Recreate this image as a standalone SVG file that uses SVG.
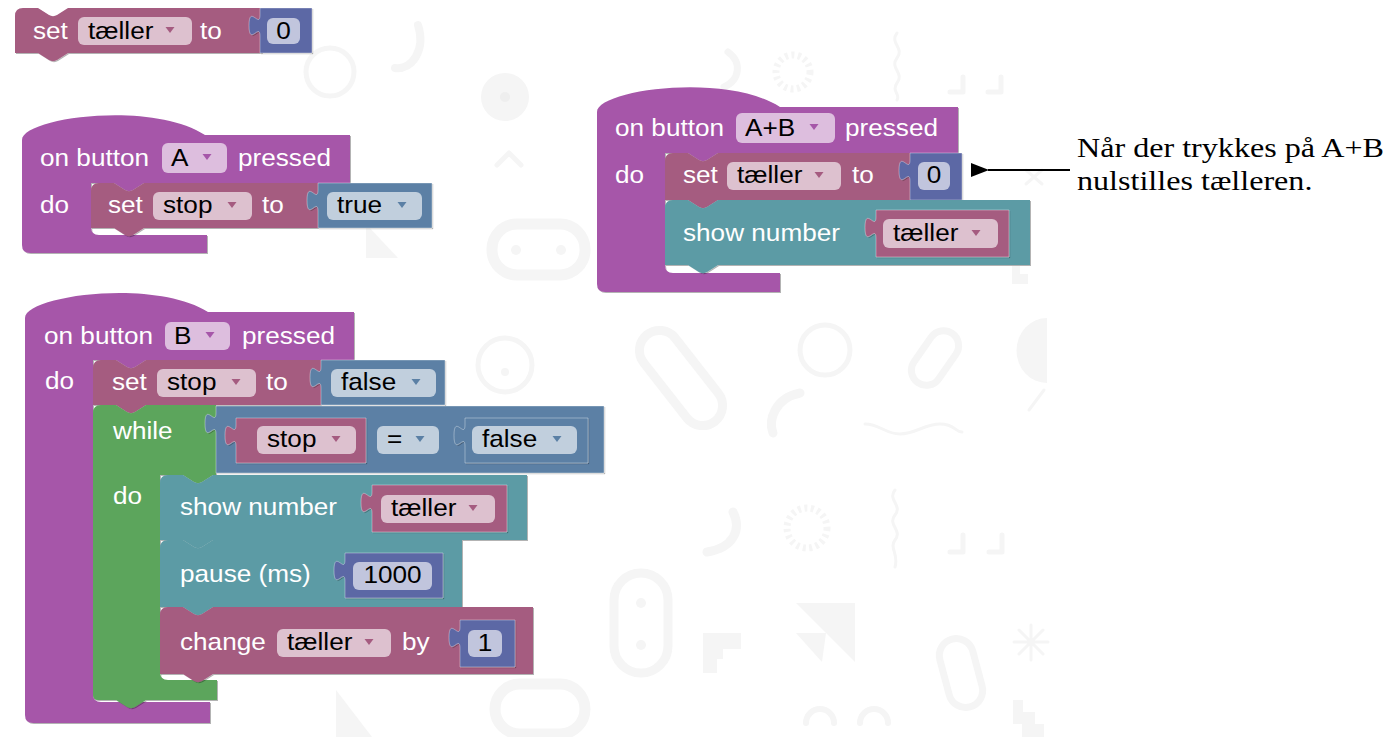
<svg xmlns="http://www.w3.org/2000/svg" width="1394" height="737" viewBox="0 0 1394 737">
  <defs>
    <!-- darker 1px edge on the lower right of every block -->
    <filter id="edge" x="-5%" y="-5%" width="110%" height="115%">
      <feOffset in="SourceAlpha" dx="1" dy="1" result="off"/>
      <feComponentTransfer in="off" result="sh"><feFuncA type="linear" slope="0.3"/></feComponentTransfer>
      <feMerge><feMergeNode in="sh"/><feMergeNode in="SourceGraphic"/></feMerge>
    </filter>
    <marker id="head" viewBox="0 0 18 14" refX="1" refY="7" markerWidth="18" markerHeight="14" markerUnits="userSpaceOnUse" orient="auto">
      <path d="M18,0 L0,7 L18,14 Z" fill="#000"/>
    </marker>
    <style>
      .hat{fill:#a657a9}
      .var{fill:#a55b80}
      .logic{fill:#5b80a5}
      .num{fill:#5b67a5}
      .loop{fill:#5ba55b}
      .basic{fill:#5b9ba5}
      .blk{filter:url(#edge)}
      .val{stroke:#fff;stroke-opacity:.35;stroke-width:1}
      .fld{fill:#fff;fill-opacity:.62}
      .lb{font-family:"Liberation Sans",Arial,sans-serif;font-size:24px;fill:#fff}
      .ft{font-family:"Liberation Sans",Arial,sans-serif;font-size:24px;fill:#000}
      .mid{text-anchor:middle}
      .an{font-family:"Liberation Serif","Times New Roman",serif;font-size:27px;fill:#000}
      .bg{fill:none;stroke:#f5f5f5;stroke-width:5;stroke-linecap:round;stroke-linejoin:round}
      .bgf{fill:#f5f5f5}
      .dots{stroke-dasharray:3 3.5;stroke-linecap:butt}
    </style>
  </defs>

  <rect width="1394" height="737" fill="#fff"/>

  <!-- faint editor wallpaper -->
  <g id="backdrop">
    <circle class="bg" cx="330" cy="72" r="24"/>
    <path class="bg" style="stroke-width:8" d="M418,25 C426,50 412,70 395,68"/>
    <circle class="bgf" cx="505" cy="97" r="24"/>
    <circle fill="#eeeeee" cx="505" cy="97" r="5"/>
    <path class="bg" d="M497,165 L509,153 L521,165"/>
    <rect class="bg" style="stroke-width:11" x="492" y="224" width="93" height="51" rx="25"/>
    <circle class="bgf" cx="516" cy="250" r="5"/>
    <circle class="bgf" cx="561" cy="250" r="5"/>
    <polygon class="bgf" points="366,224 366,258 398,258"/>
    <path class="bg" style="stroke-width:7" d="M728,52 C742,62 740,80 724,87"/>
    <circle class="bg dots" style="stroke-width:7" cx="793" cy="72" r="17"/>
    <path class="bg" style="stroke-width:3" d="M897,33 c-8,10 8,15 0,25 c-8,10 8,15 0,25 c-6,8 4,12 0,17"/>
    <path class="bg" style="stroke-width:5" d="M963,77 V92 H950 M1001,77 V92 H988"/>
    <path class="bg" style="stroke-width:3" d="M1026,170 l16,14 M1042,170 l-16,14"/>
    <path class="bgf" d="M1012,266 h8 v8 h8 v10 h-16 Z"/>
    <circle class="bg" cx="505" cy="365" r="27"/>
    <circle class="bgf" cx="505" cy="372" r="4"/>
    <rect class="bg" style="stroke-width:9" x="661" y="323" width="40" height="110" rx="20" transform="rotate(-38 681 378)"/>
    <circle class="bg" cx="825" cy="350" r="25"/>
    <rect class="bg" style="stroke-width:7" x="920" y="328" width="30" height="60" rx="15" transform="rotate(35 935 358)"/>
    <path class="bgf" d="M1047,318 A30,32 0 0 0 1047,383 Z"/>
    <path class="bg" style="stroke-width:9" d="M800,393 C775,398 768,420 773,433"/>
    <path class="bg" style="stroke-width:3" d="M865,424 c15,0 20,10 35,10 s25,-10 40,-10 s15,8 22,8"/>
    <path class="bg" style="stroke-width:3" d="M1029,410 L1044,390"/>
    <path class="bg" style="stroke-width:9" d="M733,512 C742,530 733,548 707,552"/>
    <circle class="bg dots" style="stroke-width:7" cx="807" cy="528" r="20"/>
    <path class="bg" style="stroke-width:3" d="M895,490 c-8,10 8,15 0,25 c-8,10 8,15 0,25 c-6,8 4,14 0,27"/>
    <path class="bg" style="stroke-width:5" d="M963,535 V552 H950 M1002,535 V552 H989"/>
    <rect class="bg" style="stroke-width:9" x="614" y="573" width="54" height="100" rx="27"/>
    <circle class="bgf" cx="641" cy="603" r="5"/>
    <circle class="bgf" cx="641" cy="645" r="5"/>
    <path class="bgf" d="M703,633 h38 v16 h-18 v10 h-6 v14 h-14 Z"/>
    <path class="bgf" d="M796,603 H855 V662 Z M796,633 H826 L822,662 Z"/>
    <rect class="bg" style="stroke-width:7" x="944" y="638" width="34" height="70" rx="17" transform="rotate(-15 961 673)"/>
    <path class="bg" style="stroke-width:3" d="M1031,625 V660 M1014,642 H1048 M1019,630 l24,24 M1043,630 l-24,24"/>
    <path class="bg" style="stroke-width:6" d="M806,723 a13,13 0 0 1 28,0 M860,723 a13,13 0 0 1 28,0"/>
    <path class="bgf" d="M1013,700 h10 v12 h12 v12 h9 v13 h-22 v-13 h-9 Z"/>
    <rect class="bg" style="stroke-width:11" x="495" y="684" width="90" height="50" rx="25"/>
    <path class="bgf" d="M336,690 V737 H372 Z"/>
  </g>

  <!-- loose block: set tæller to 0 -->
  <g id="set-counter-loose">
    <path class="blk var" d="M15,16 Q15,8 23,8 H38 l11,7 c2.5,1.5 5.5,1.5 8,0 l11,-7 H262 V53 H68 l-11,7 c-2.5,1.5 -5.5,1.5 -8,0 l-11,-7 H15 Z"/>
    <text class="lb" transform="matrix(1.09 0 0 1 33 38.5)">set</text>
    <rect class="fld" x="78" y="17" width="114" height="28" rx="6"/>
    <text class="ft" transform="matrix(1.09 0 0 1 88 38.5)">tæller</text>
    <polygon class="var" points="165.5,27 174.5,27 170,33"/>
    <text class="lb" transform="matrix(1.09 0 0 1 200 38.5)">to</text>
    <path class="blk num val" d="M260,8 V15 c0,14 -11,-11 -11,10.5 s11,-3.5 11,10.5 V53 H312 V8 Z"/>
    <rect class="fld" x="267" y="18" width="33" height="26" rx="6"/>
    <text class="ft mid" transform="matrix(1.09 0 0 1 283.5 38.5)">0</text>
  </g>

  <!-- on button A pressed -->
  <g id="on-button-a">
    <path class="blk hat" d="M22,140 C22,118 150,100 205,135 H350 V183 H144 l-11,7 c-2.5,1.5 -5.5,1.5 -8,0 l-11,-7 H91 V227 Q91,235 99,235 H207 V253 H30 Q22,253 22,245 Z"/>
    <text class="lb" transform="matrix(1.09 0 0 1 40 165.5)">on button</text>
    <rect class="fld" x="162" y="143" width="65" height="30" rx="6"/>
    <text class="ft" transform="matrix(1.09 0 0 1 171 165.5)">A</text>
    <polygon class="hat" points="202.5,154 211.5,154 207,160"/>
    <text class="lb" transform="matrix(1.09 0 0 1 238 165.5)">pressed</text>
    <text class="lb" transform="matrix(1.09 0 0 1 40 213)">do</text>
    <path class="blk var" d="M91,191 Q91,183 99,183 H114 l11,7 c2.5,1.5 5.5,1.5 8,0 l11,-7 H318 V228 H144 l-11,7 c-2.5,1.5 -5.5,1.5 -8,0 l-11,-7 H91 Z"/>
    <text class="lb" transform="matrix(1.09 0 0 1 108 213)">set</text>
    <rect class="fld" x="153" y="192" width="99" height="28" rx="6"/>
    <text class="ft" transform="matrix(1.09 0 0 1 163 213)">stop</text>
    <polygon class="var" points="227.5,202 236.5,202 232,208"/>
    <text class="lb" transform="matrix(1.09 0 0 1 262 213)">to</text>
    <path class="blk logic val" d="M318,183 V190 c0,14 -11,-11 -11,10.5 s11,-3.5 11,10.5 V228 H432 V183 Z"/>
    <rect class="fld" x="327" y="192" width="95" height="28" rx="6"/>
    <text class="ft" transform="matrix(1.09 0 0 1 337 213)">true</text>
    <polygon class="logic" points="397.5,202 406.5,202 402,208"/>
  </g>

  <!-- on button B pressed -->
  <g id="on-button-b">
    <path class="blk hat" d="M25,318 C25,296 153,278 208,312 H354 V360 H146 l-11,7 c-2.5,1.5 -5.5,1.5 -8,0 l-11,-7 H93 V694 Q93,702 101,702 H210 V723 H33 Q25,723 25,715 Z"/>
    <text class="lb" transform="matrix(1.09 0 0 1 44 343.5)">on button</text>
    <rect class="fld" x="165" y="322" width="65" height="28" rx="6"/>
    <text class="ft" transform="matrix(1.09 0 0 1 174 343.5)">B</text>
    <polygon class="hat" points="205.5,332 214.5,332 210,338"/>
    <text class="lb" transform="matrix(1.09 0 0 1 242 343.5)">pressed</text>
    <text class="lb" transform="matrix(1.09 0 0 1 45 389)">do</text>

    <!-- set stop to false -->
    <path class="blk var" d="M93,368 Q93,360 101,360 H116 l11,7 c2.5,1.5 5.5,1.5 8,0 l11,-7 H321 V405 H146 l-11,7 c-2.5,1.5 -5.5,1.5 -8,0 l-11,-7 H93 Z"/>
    <text class="lb" transform="matrix(1.09 0 0 1 112 390)">set</text>
    <rect class="fld" x="157" y="369" width="99" height="28" rx="6"/>
    <text class="ft" transform="matrix(1.09 0 0 1 167 390)">stop</text>
    <polygon class="var" points="231.5,379 240.5,379 236,385"/>
    <text class="lb" transform="matrix(1.09 0 0 1 266 390)">to</text>
    <path class="blk logic val" d="M321,360 V367 c0,14 -11,-11 -11,10.5 s11,-3.5 11,10.5 V405 H445 V360 Z"/>
    <rect class="fld" x="331" y="369" width="105" height="28" rx="6"/>
    <text class="ft" transform="matrix(1.09 0 0 1 341 390)">false</text>
    <polygon class="logic" points="411.5,379 420.5,379 416,385"/>

    <!-- while loop -->
    <path class="blk loop" d="M93,413 Q93,405 101,405 H116 l11,7 c2.5,1.5 5.5,1.5 8,0 l11,-7 H216 V475 H213 l-11,7 c-2.5,1.5 -5.5,1.5 -8,0 l-11,-7 H160 V672 Q160,680 168,680 H217 V700 H146 l-11,7 c-2.5,1.5 -5.5,1.5 -8,0 l-11,-7 H98 Q93,700 93,695 Z"/>
    <text class="lb" transform="matrix(1.09 0 0 1 113 438.5)">while</text>
    <text class="lb" transform="matrix(1.09 0 0 1 113 503.5)">do</text>

    <!-- stop = false -->
    <path class="blk logic val" d="M216,406 V413 c0,14 -11,-11 -11,10.5 s11,-3.5 11,10.5 V473 H604 V406 Z"/>
    <path class="blk var val" d="M236,418 V425 c0,14 -11,-11 -11,10.5 s11,-3.5 11,10.5 V463 H366 V418 Z"/>
    <rect class="fld" x="257" y="426" width="99" height="28" rx="6"/>
    <text class="ft" transform="matrix(1.09 0 0 1 267 447)">stop</text>
    <polygon class="var" points="331.5,436 340.5,436 336,442"/>
    <rect class="fld" x="377" y="426" width="62" height="28" rx="6"/>
    <text class="ft" transform="matrix(1.09 0 0 1 387 447)">=</text>
    <polygon class="logic" points="415.5,436 424.5,436 420,442"/>
    <path class="blk logic val" d="M465,418 V425 c0,14 -11,-11 -11,10.5 s11,-3.5 11,10.5 V463 H588 V418 Z"/>
    <rect class="fld" x="472" y="426" width="105" height="28" rx="6"/>
    <text class="ft" transform="matrix(1.09 0 0 1 482 447)">false</text>
    <polygon class="logic" points="552.5,436 561.5,436 557,442"/>

    <!-- show number tæller -->
    <path class="blk basic" d="M160,483 Q160,475 168,475 H183 l11,7 c2.5,1.5 5.5,1.5 8,0 l11,-7 H527 V540 H213 l-11,7 c-2.5,1.5 -5.5,1.5 -8,0 l-11,-7 H160 Z"/>
    <text class="lb" transform="matrix(1.09 0 0 1 180 514.5)">show number</text>
    <path class="blk var val" d="M372,485 V492 c0,14 -11,-11 -11,10.5 s11,-3.5 11,10.5 V532 H507 V485 Z"/>
    <rect class="fld" x="381" y="495" width="114" height="28" rx="6"/>
    <text class="ft" transform="matrix(1.09 0 0 1 391 516)">tæller</text>
    <polygon class="var" points="468.5,505 477.5,505 473,511"/>

    <!-- pause (ms) 1000 -->
    <path class="blk basic" d="M160,548 Q160,540 168,540 H183 l11,7 c2.5,1.5 5.5,1.5 8,0 l11,-7 H462 V607 H213 l-11,7 c-2.5,1.5 -5.5,1.5 -8,0 l-11,-7 H160 Z"/>
    <text class="lb" transform="matrix(1.09 0 0 1 180 581.5)">pause (ms)</text>
    <path class="blk num val" d="M345,553 V560 c0,14 -11,-11 -11,10.5 s11,-3.5 11,10.5 V598 H443 V553 Z"/>
    <rect class="fld" x="353" y="562" width="79" height="28" rx="6"/>
    <text class="ft mid" transform="matrix(1.09 0 0 1 392.5 583)">1000</text>

    <!-- change tæller by 1 -->
    <path class="blk var" d="M160,615 Q160,607 168,607 H183 l11,7 c2.5,1.5 5.5,1.5 8,0 l11,-7 H533 V674 H213 l-11,7 c-2.5,1.5 -5.5,1.5 -8,0 l-11,-7 H160 Z"/>
    <text class="lb" transform="matrix(1.09 0 0 1 180 650)">change</text>
    <rect class="fld" x="277" y="629" width="114" height="28" rx="6"/>
    <text class="ft" transform="matrix(1.09 0 0 1 287 650)">tæller</text>
    <polygon class="var" points="364.5,639 373.5,639 369,645"/>
    <text class="lb" transform="matrix(1.09 0 0 1 402 650)">by</text>
    <path class="blk num val" d="M460,620 V627 c0,14 -11,-11 -11,10.5 s11,-3.5 11,10.5 V667 H515 V620 Z"/>
    <rect class="fld" x="468" y="630" width="34" height="27" rx="6"/>
    <text class="ft mid" transform="matrix(1.09 0 0 1 485 650.5)">1</text>
  </g>

  <!-- on button A+B pressed -->
  <g id="on-button-ab">
    <path class="blk hat" d="M597,112 C597,90 725,72 780,107 H958 V153 H718 l-11,7 c-2.5,1.5 -5.5,1.5 -8,0 l-11,-7 H665 V265 Q665,273 673,273 H780 V292 H605 Q597,292 597,284 Z"/>
    <text class="lb" transform="matrix(1.09 0 0 1 615 135.5)">on button</text>
    <rect class="fld" x="736" y="113" width="99" height="30" rx="6"/>
    <text class="ft" transform="matrix(1.09 0 0 1 745 135.5)">A+B</text>
    <polygon class="hat" points="809.5,124 818.5,124 814,130"/>
    <text class="lb" transform="matrix(1.09 0 0 1 845 135.5)">pressed</text>
    <text class="lb" transform="matrix(1.09 0 0 1 615 183)">do</text>

    <path class="blk var" d="M665,161 Q665,153 673,153 H688 l11,7 c2.5,1.5 5.5,1.5 8,0 l11,-7 H910 V200 H718 l-11,7 c-2.5,1.5 -5.5,1.5 -8,0 l-11,-7 H665 Z"/>
    <text class="lb" transform="matrix(1.09 0 0 1 683 183)">set</text>
    <rect class="fld" x="727" y="162" width="114" height="28" rx="6"/>
    <text class="ft" transform="matrix(1.09 0 0 1 737 183)">tæller</text>
    <polygon class="var" points="814.5,172 823.5,172 819,178"/>
    <text class="lb" transform="matrix(1.09 0 0 1 852 183)">to</text>
    <path class="blk num val" d="M910,153 V160 c0,14 -11,-11 -11,10.5 s11,-3.5 11,10.5 V200 H962 V153 Z"/>
    <rect class="fld" x="918" y="162" width="32" height="28" rx="6"/>
    <text class="ft mid" transform="matrix(1.09 0 0 1 934 183)">0</text>

    <path class="blk basic" d="M665,208 Q665,200 673,200 H688 l11,7 c2.5,1.5 5.5,1.5 8,0 l11,-7 H1030 V265 H718 l-11,7 c-2.5,1.5 -5.5,1.5 -8,0 l-11,-7 H665 Z"/>
    <text class="lb" transform="matrix(1.09 0 0 1 683 240.5)">show number</text>
    <path class="blk var val" d="M876,210 V217 c0,14 -11,-11 -11,10.5 s11,-3.5 11,10.5 V257 H1009 V210 Z"/>
    <rect class="fld" x="883" y="219" width="115" height="29" rx="6"/>
    <text class="ft" transform="matrix(1.09 0 0 1 893 240.5)">tæller</text>
    <polygon class="var" points="971.5,230 980.5,230 976,236"/>
  </g>

  <!-- annotation for the A+B handler -->
  <g id="note">
    <text class="an" transform="matrix(1.19 0 0 1 1077 157)">Når der trykkes på A+B</text>
    <text class="an" transform="matrix(1.19 0 0 1 1077 190)">nulstilles tælleren.</text>
  </g>

  <g id="connectors">
    <line x1="1070" y1="170" x2="988" y2="170" stroke="#000" stroke-width="2" marker-end="url(#head)"/>
  </g>
</svg>
